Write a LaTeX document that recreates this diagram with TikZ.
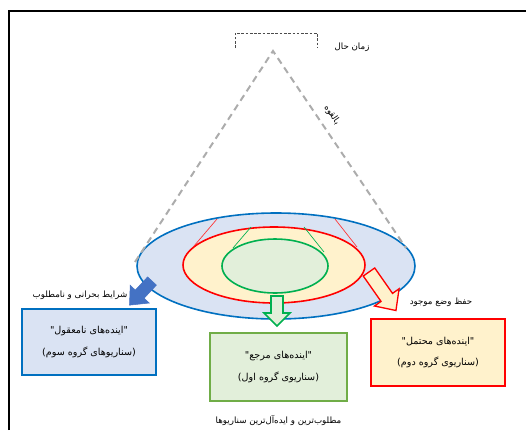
\documentclass[tikz,border=0pt]{standalone}
\usepackage{fontspec}
\usepackage{tikz}
\usetikzlibrary{positioning, calc}
\TeXXeTstate=1
\newfontfamily\arabicfont[Script=Arabic]{DejaVu Sans}
\definecolor{ringblue}{HTML}{0070C0}
\definecolor{paleblue}{HTML}{DAE3F3}
\definecolor{ringred}{HTML}{FF0000}
\definecolor{paleyellow}{HTML}{FFF2CC}
\definecolor{ringgreen}{HTML}{00B050}
\definecolor{palegreen}{HTML}{E2EFDA}
\definecolor{boxgreen}{HTML}{70AD47}
\definecolor{arrowblue}{HTML}{4472C4}
\tikzset{
  fatext/.style={font=\arabicfont\fontsize{6.5}{9}\selectfont, inner sep=0pt},
  scenbox/.style={draw, line width=1.3pt, align=center, minimum width=101pt, minimum height=50pt,
    font=\arabicfont\fontsize{7.2}{16}\selectfont},
  conedash/.style={gray!65, line width=1.5pt, dash pattern=on 5pt off 3.5pt},
}

\begin{document}
\begin{tikzpicture}[x=0.75pt, y=-0.75pt]
  \useasboundingbox (0,0) rectangle (526,430);

  % Frame
  \draw[line width=1.5pt] (9,430) -- (9,11) -- (526,11);

  % Present time
  \draw[black!70, line width=0.6pt, dash pattern=on 2pt off 1.2pt] (235,48) -- (235,33) -- (317,33) -- (317,48);
  \node[fatext] (now) at (352,47) {\beginR زمان حال\endR};

  % Rings
  \draw[ringblue, fill=paleblue, line width=1.2pt] (276,266) ellipse [x radius=139, y radius=53];
  \draw[ringred, fill=paleyellow, line width=1.2pt] (274,265) ellipse [x radius=91, y radius=38];
  \draw[ringgreen, fill=palegreen, line width=1.2pt] (275,266) ellipse [x radius=53, y radius=27];

  % Projection lines
  \draw[ringred!80, line width=0.5pt] (217,219) -- (194,246);
  \draw[ringred!80, line width=0.5pt] (335,219) -- (357,247);
  \draw[ringgreen, line width=0.5pt] (251,227) -- (233,248);
  \draw[ringgreen, line width=0.5pt] (304,227) -- (324,252);

  % Cone
  \coordinate (apex) at (273,51);
  \coordinate (coneL) at (135,262);
  \coordinate (coneR) at (406,248);
  \draw[conedash] (coneL) -- (apex) -- (coneR);
  \node[fatext, rotate=-56] (potential) at (332,115) {\beginR بالقوه\endR};

  % Block arrows
  \draw[fill=arrowblue, draw=arrowblue, shift={(152,281)}, rotate=-43]
    (-6,0) -- (6,0) -- (6,18) -- (13,18) -- (0,33) -- (-13,18) -- (-6,18) -- cycle;
  \draw[fill=palegreen, draw=ringgreen, line width=1.2pt, shift={(277,296)}]
    (-6,0) -- (6,0) -- (6,17) -- (13,17) -- (0,30) -- (-13,17) -- (-6,17) -- cycle;
  \draw[fill=paleyellow, draw=ringred, line width=1pt, shift={(369,272)}, rotate=35]
    (-7,0) -- (7,0) -- (7,31) -- (15,31) -- (0,47) -- (-15,31) -- (-7,31) -- cycle;

  % Scenario boxes
  \node[scenbox, draw=ringblue, fill=paleblue] (absurd) at (89,342)
    {\beginR "اینده‌های نامعقول"\endR\\\beginR (سناریوهای گروه سوم)\endR};
  \node[scenbox, draw=boxgreen, fill=palegreen, minimum width=103pt, minimum height=51pt] (reference) at (278.5,367)
    {\beginR "اینده‌های مرجع"\endR\\\beginR (سناریوی گروه اول)\endR};
  \node[scenbox, draw=ringred, fill=paleyellow] (probable) at (438,352.5)
    {\beginR "اینده‌های محتمل"\endR\\\beginR (سناریوی گروه دوم)\endR};

  % Labels
  \node[fatext] (crisis) at (80,295) {\beginR شرایط بحرانی و نامطلوب\endR};
  \node[fatext] (statusquo) at (441,302) {\beginR حفظ وضع موجود\endR};
  \node[fatext, below=10pt of reference] (ideal) {\beginR مطلوب‌ترین و ایده‌آل‌ترین سناریوها\endR};
\end{tikzpicture}
\end{document}
